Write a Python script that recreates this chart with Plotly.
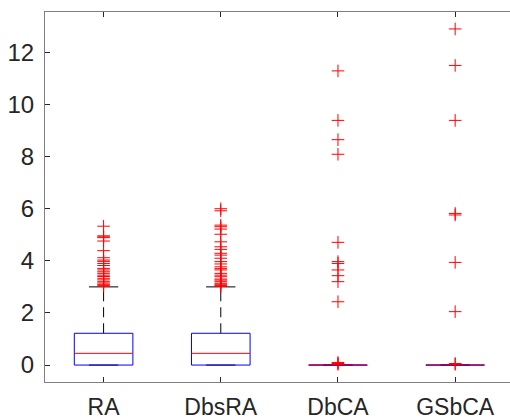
import plotly.graph_objects as go

categories = ["RA", "DbsRA", "DbCA", "GSbCA"]
q1 = [0.0, 0.0, 0.0, 0.0]
medians = [0.45, 0.45, 0.0, 0.0]
q3 = [1.22, 1.22, 0.0, 0.0]
whisker_lo = [0.0, 0.0, 0.0, 0.0]
whisker_hi = [3.0, 3.0, 0.0, 0.0]

outliers_RA = [5.33, 4.96, 4.92, 4.89, 4.76, 4.39, 4.12, 4.03, 3.98, 3.9, 3.82, 3.71, 3.65,
               3.58, 3.52, 3.45, 3.4, 3.33, 3.27, 3.2, 3.15, 3.1, 3.06, 3.03]
outliers_DbsRA = [6.0, 5.92, 5.37, 5.31, 5.22, 5.02, 4.73, 4.54, 4.44, 4.29, 4.22, 4.1, 3.97,
                  3.88, 3.77, 3.7, 3.65, 3.52, 3.45, 3.39, 3.3, 3.26, 3.2, 3.14, 3.1, 3.05, 3.02]
outliers_DbCA = [11.29, 9.39, 8.65, 8.09, 4.71, 3.97, 3.9, 3.65, 3.43, 3.2, 2.43, 0.1, 0.06, 0.03]
outliers_GSbCA = [12.9, 11.5, 9.39, 5.82, 5.76, 3.94, 2.05, 0.06, 0.03]
outliers = [outliers_RA, outliers_DbsRA, outliers_DbCA, outliers_GSbCA]

box_half = 0.25
cap_half = 0.125

fig = go.Figure()
for i, cat in enumerate(categories):
    x = i + 1
    # whiskers (dashed)
    fig.add_trace(go.Scatter(x=[x, x], y=[q3[i], whisker_hi[i]], mode="lines",
                             line=dict(color="black", width=1, dash="10px,6px"), hoverinfo="skip"))
    fig.add_trace(go.Scatter(x=[x, x], y=[q1[i], whisker_lo[i]], mode="lines",
                             line=dict(color="black", width=1, dash="10px,6px"), hoverinfo="skip"))
    # caps
    fig.add_trace(go.Scatter(x=[x - cap_half, x + cap_half], y=[whisker_hi[i]] * 2, mode="lines",
                             line=dict(color="black", width=1), hoverinfo="skip"))
    fig.add_trace(go.Scatter(x=[x - cap_half, x + cap_half], y=[whisker_lo[i]] * 2, mode="lines",
                             line=dict(color="black", width=1), hoverinfo="skip"))
    # box
    fig.add_trace(go.Scatter(x=[x - box_half, x + box_half, x + box_half, x - box_half, x - box_half],
                             y=[q1[i], q1[i], q3[i], q3[i], q1[i]], mode="lines",
                             line=dict(color="#0000ff", width=1), hoverinfo="skip"))
    # median
    fig.add_trace(go.Scatter(x=[x - box_half, x + box_half], y=[medians[i]] * 2, mode="lines",
                             line=dict(color="#ff0000", width=1), hoverinfo="skip"))
    # outliers
    fig.add_trace(go.Scatter(x=[x] * len(outliers[i]), y=outliers[i], mode="markers",
                             marker=dict(symbol="cross-thin", size=9,
                                         line=dict(color="#ff0000", width=1)),
                             hoverinfo="skip"))

fig.update_layout(
    width=510, height=419,
    margin=dict(l=45, r=0, t=12, b=37),
    paper_bgcolor="white", plot_bgcolor="white",
    showlegend=False,
    font=dict(family="Liberation Sans, Arial, sans-serif", size=24, color="#262626"),
)
fig.update_xaxes(
    range=[0.5, 4.468], tickmode="array", tickvals=[1, 2, 3, 4], ticktext=categories,
    showgrid=False, zeroline=False, showline=True, linecolor="#7f7f7f", linewidth=1,
    mirror="ticks", ticks="inside", ticklen=5, tickcolor="#262626", tickwidth=1,
    ticklabelstandoff=4, automargin=False, tickfont=dict(size=23),
)
fig.update_yaxes(
    range=[-0.65, 13.55], tickmode="array", tickvals=[0, 2, 4, 6, 8, 10, 12],
    showgrid=False, zeroline=False, showline=True, linecolor="#7f7f7f", linewidth=1,
    ticks="inside", ticklen=5, tickcolor="#262626", tickwidth=1,
    ticklabelstandoff=5, automargin=False,
)

fig.write_html("out.html", config={"displayModeBar": False},
               post_script="document.body.style.margin='0';document.body.style.overflow='hidden';")
